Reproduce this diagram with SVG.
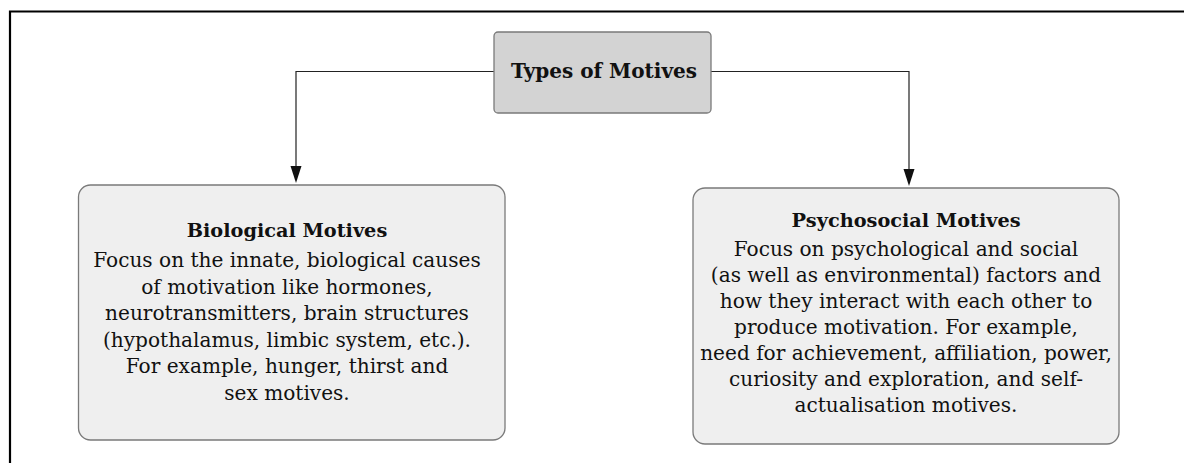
<svg xmlns="http://www.w3.org/2000/svg" width="1184" height="463" viewBox="0 0 1184 463">
<defs>
<style>
.box{stroke:#7a7a7a;stroke-width:1.3}
.t{font-family:"DejaVu Serif","Liberation Serif",serif;font-size:20.1px;fill:#111;text-anchor:middle}
.b{font-weight:bold;font-size:19.3px}
.c{fill:none;stroke:#222;stroke-width:1.2}
</style>
</defs>
<rect width="1184" height="463" fill="#fff"/>
<path d="M10,463 V11.5 H1184" fill="none" stroke="#000" stroke-width="2.2"/>
<g id="connectors">
<path class="c" d="M494,71.5 H296 V167"/>
<path d="M290.5,166 L301.5,166 L296,183 Z" fill="#111"/>
<path class="c" d="M711,71.5 H909 V170"/>
<path d="M903.5,169 L914.5,169 L909,186 Z" fill="#111"/>
</g>
<g id="types">
<rect class="box" x="494" y="32" width="217" height="81" rx="4" fill="#d3d3d3"/>
<text class="t b" x="604" y="78" style="font-size:20px">Types of Motives</text>
</g>
<g id="biological">
<rect class="box" x="78.5" y="185" width="426.5" height="255" rx="12" fill="#efefef"/>
<text class="t b" x="287" y="237">Biological Motives</text>
<text class="t" x="287" y="267">Focus on the innate, biological causes</text>
<text class="t" x="287" y="293.5">of motivation like hormones,</text>
<text class="t" x="287" y="320">neurotransmitters, brain structures</text>
<text class="t" x="287" y="346.5">(hypothalamus, limbic system, etc.).</text>
<text class="t" x="287" y="373">For example, hunger, thirst and</text>
<text class="t" x="287" y="399.5">sex motives.</text>
</g>
<g id="psychosocial">
<rect class="box" x="693" y="188" width="426" height="256" rx="12" fill="#efefef"/>
<text class="t b" x="906" y="227">Psychosocial Motives</text>
<text class="t" x="906" y="255.5">Focus on psychological and social</text>
<text class="t" x="906" y="281.5">(as well as environmental) factors and</text>
<text class="t" x="906" y="307.5">how they interact with each other to</text>
<text class="t" x="906" y="333.5">produce motivation. For example,</text>
<text class="t" x="906" y="359.5">need for achievement, affiliation, power,</text>
<text class="t" x="906" y="385.5">curiosity and exploration, and self-</text>
<text class="t" x="906" y="411.5">actualisation motives.</text>
</g>
</svg>
